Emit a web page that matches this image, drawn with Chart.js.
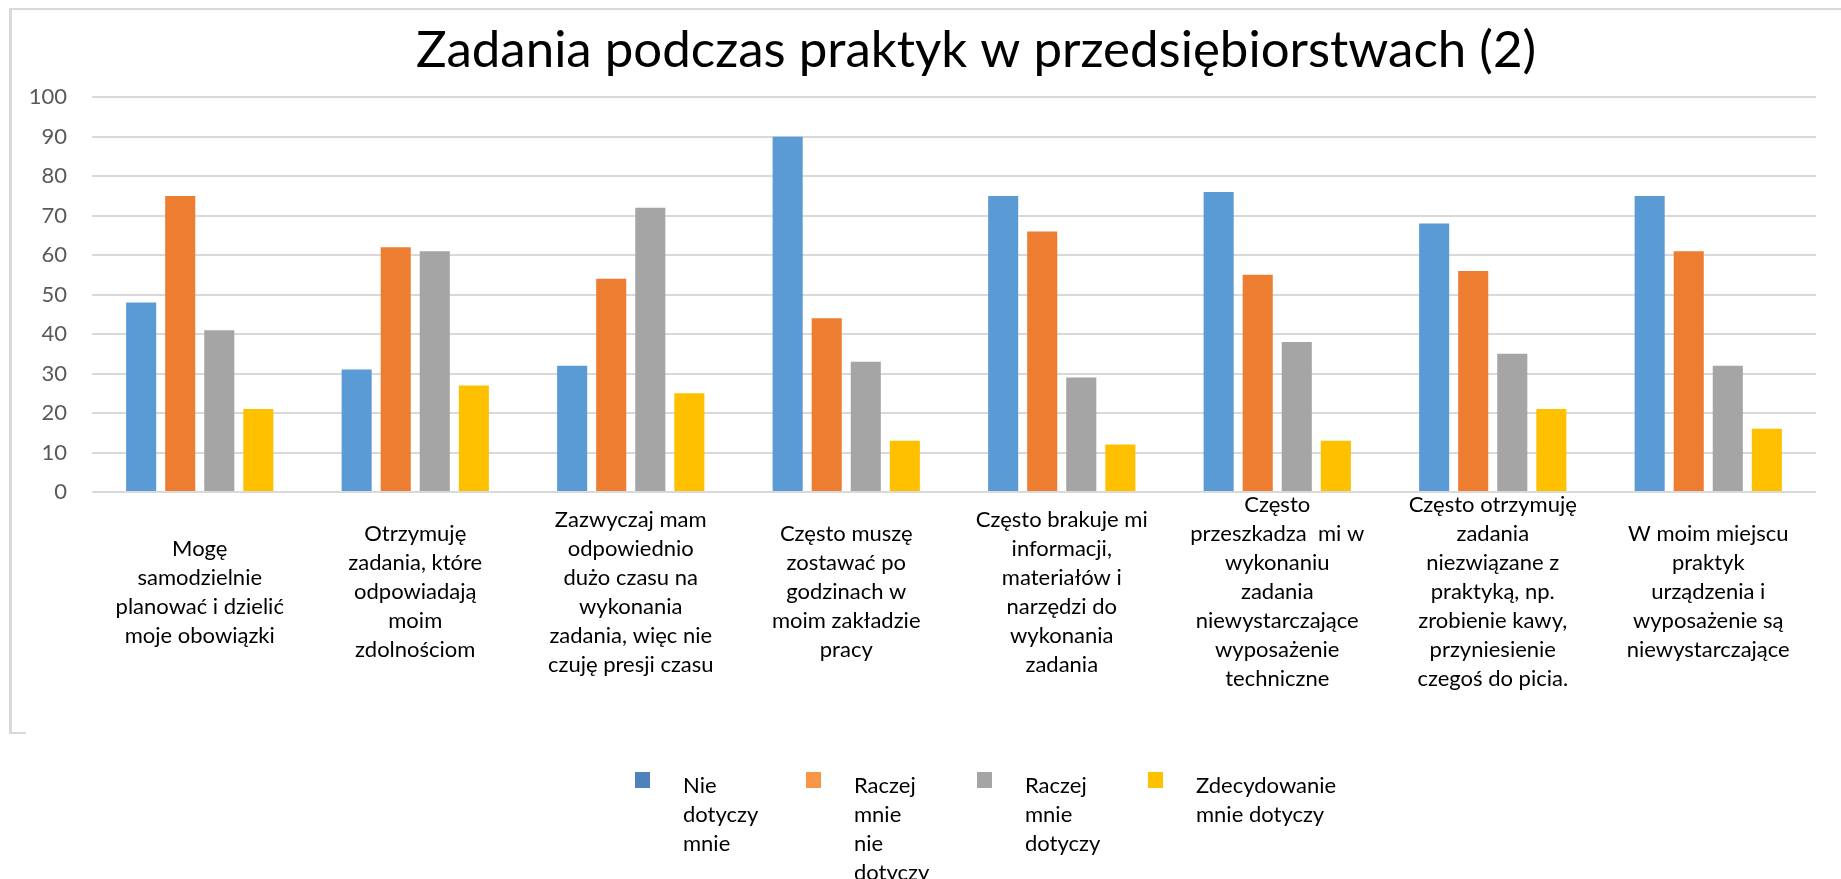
<!DOCTYPE html>
<html>
<head>
<meta charset="utf-8">
<script src="https://cdn.jsdelivr.net/npm/chart.js@4.4.1/dist/chart.umd.min.js"></script>
<style>
  html, body { margin: 0; padding: 0; background: #fff; overflow: hidden; }
  #wrap { position: relative; width: 1841px; height: 879px; }
  #frame { position: absolute; left: 9px; top: 8px; right: -10px; height: 722px;
           border-left: 3px solid #d9d9d9; border-top: 2px solid #d9d9d9; }
  #frame::after { content: ''; position: absolute; left: -3px; bottom: -2px; width: 17px; height: 2px; background: #d9d9d9; }
  #chart { position: absolute; left: 0; top: 0; }
  #legend { position: absolute; left: 635px; top: 770px; display: flex;
            font: 22px Lato, "Open Sans", sans-serif; line-height: 29px; color: #000; }
  #legend .item { width: 171px; display: flex; align-items: flex-start; }
  #legend .box { width: 15px; height: 16px; margin-top: 2px; flex: none; }
  #legend .txt { margin-left: 33px; white-space: nowrap; }
</style>
</head>
<body>
<div id="wrap">
  <div id="frame"></div>
  <canvas id="chart"></canvas>
  <div id="legend"></div>
</div>
<script>
// Zadania podczas praktyk — clustered bars, 4 answers per statement

const TITLE = 'Zadania podczas praktyk w przedsiębiorstwach (2)';

const categories = [
  ['Mogę', 'samodzielnie', 'planować i dzielić', 'moje obowiązki'],
  ['Otrzymuję', 'zadania, które', 'odpowiadają', 'moim', 'zdolnościom'],
  ['Zazwyczaj mam', 'odpowiednio', 'dużo czasu na', 'wykonania', 'zadania, więc nie', 'czuję presji czasu'],
  ['Często muszę', 'zostawać po', 'godzinach w', 'moim zakładzie', 'pracy'],
  ['Często brakuje mi', 'informacji,', 'materiałów i', 'narzędzi do', 'wykonania', 'zadania'],
  ['Często', 'przeszkadza  mi w', 'wykonaniu', 'zadania', 'niewystarczające', 'wyposażenie', 'techniczne'],
  ['Często otrzymuję', 'zadania', 'niezwiązane z', 'praktyką, np.', 'zrobienie kawy,', 'przyniesienie', 'czegoś do picia.'],
  ['W moim miejscu', 'praktyk', 'urządzenia i', 'wyposażenie są', 'niewystarczające'],
];

const seriesLabels = [
  ['Nie', 'dotyczy', 'mnie'],
  ['Raczej', 'mnie', 'nie', 'dotyczy'],
  ['Raczej', 'mnie', 'dotyczy'],
  ['Zdecydowanie', 'mnie dotyczy'],
];

const nieDotyczy   = [48, 31, 32, 90, 75, 76, 68, 75];
const raczejNie    = [75, 62, 54, 44, 66, 55, 56, 61];
const raczejTak    = [41, 61, 72, 33, 29, 38, 35, 32];
const zdecydowanie = [21, 27, 25, 13, 12, 13, 21, 16];

const yMin = 0, yMax = 100, yStep = 10;

const BAR_COLORS = ['#5B9BD5', '#ED7D31', '#A5A5A5', '#FFC000'];
const LEGEND_COLORS = ['#4F81BD', '#F79646', '#A5A5A5', '#FFC000'];

const FONT = 'Lato, "Open Sans", sans-serif';

// Excel did not center the title on the canvas
const TITLE_SHIFT = 68;

const shiftTitle = {
  id: 'shiftTitle',
  afterLayout(chart) {
    const t = chart.titleBlock;
    if (t) { t.left += TITLE_SHIFT; t.right += TITLE_SHIFT; }
  }
};

const series = [nieDotyczy, raczejNie, raczejTak, zdecydowanie];

const ctx = document.getElementById('chart').getContext('2d');
const chart = new Chart(ctx, {
  type: 'bar',
  data: {
    labels: categories,
    datasets: series.map((values, i) => ({
      label: seriesLabels[i].join(' '),
      data: values,
      backgroundColor: BAR_COLORS[i],
      borderWidth: 0,
      categoryPercentage: 0.725,
      barPercentage: 0.77,
    })),
  },
  options: {
    responsive: true,
    maintainAspectRatio: false,
    animation: false,
    layout: { padding: { left: 0, right: 25, top: 0, bottom: 159 } },
    plugins: {
      title: {
        display: true,
        text: TITLE,
        color: '#000',
        font: { family: FONT, size: 51, weight: 'normal', lineHeight: 1.2 },
        padding: { top: 20, bottom: 16 },
      },
      legend: { display: false },
      tooltip: { enabled: false },
    },
    scales: {
      x: {
        grid: { display: false },
        border: { display: false },
        ticks: {
          color: '#000',
          font: { family: FONT, size: 22, lineHeight: '29px' },
          maxRotation: 0,
          minRotation: 0,
          autoSkip: false,
          crossAlign: 'center',
          padding: 5,
        },
        afterFit: s => { s.height = 228; },
      },
      y: {
        min: yMin,
        max: yMax,
        ticks: {
          stepSize: yStep,
          color: '#595959',
          font: { family: FONT, size: 22 },
          padding: 25,
        },
        grid: { color: '#D9D9D9', lineWidth: 2, drawTicks: false },
        border: { display: false },
        afterFit: s => { s.width = 92; },
      },
    },
  },
  plugins: [shiftTitle],
});

// legend: multi-line labels, built from the same series names and colours
const legendEl = document.getElementById('legend');
seriesLabels.forEach((lines, i) => {
  const item = document.createElement('div');
  item.className = 'item';
  const box = document.createElement('div');
  box.className = 'box';
  box.style.background = LEGEND_COLORS[i];
  const txt = document.createElement('div');
  txt.className = 'txt';
  txt.innerHTML = lines.join('<br>');
  item.appendChild(box);
  item.appendChild(txt);
  legendEl.appendChild(item);
});
</script>
</body>
</html>
